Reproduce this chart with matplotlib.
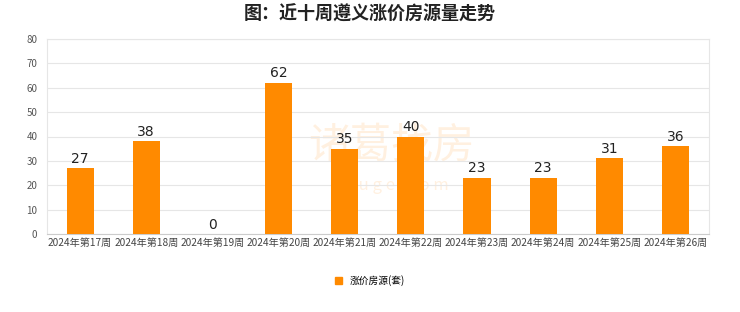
import numpy as np
import matplotlib.pyplot as plt
from matplotlib.patches import Patch

plt.rcParams['font.family'] = ['Noto Sans CJK SC', 'DejaVu Sans']

weeks = ['2024年第17周', '2024年第18周', '2024年第19周', '2024年第20周', '2024年第21周',
         '2024年第22周', '2024年第23周', '2024年第24周', '2024年第25周', '2024年第26周']
counts = [27, 38, 0, 62, 35, 40, 23, 23, 31, 36]
y_ticks = [0, 10, 20, 30, 40, 50, 60, 70, 80]

bar_color = '#FF8A00'

fig = plt.figure(figsize=(7.4, 3.12), dpi=100)
ax = fig.add_axes([0.0635, 0.25, 0.894, 0.625])

x = np.arange(len(weeks))
ax.bar(x, counts, width=0.41, color=bar_color, zorder=3)
for xi, v in zip(x, counts):
    ax.text(xi, v + 1, str(v), ha='center', va='bottom', fontsize=10, color='#222222',
            family='DejaVu Sans', zorder=4)

ax.set_xlim(-0.5, len(weeks) - 0.5)
ax.set_ylim(0, 80)
ax.set_yticks(y_ticks)
ax.set_xticks(x)
ax.set_xticklabels(weeks, fontsize=7.3, color='#444444')
ax.tick_params(axis='y', labelsize=7, labelcolor='#555555', length=0, pad=7)
ax.tick_params(axis='x', length=0, pad=3)
ax.grid(axis='y', color='#e6e6e6', linewidth=0.8, zorder=0)
for side in ['top', 'right', 'left']:
    ax.spines[side].set_color('#e6e6e6')
    ax.spines[side].set_linewidth(0.8)
ax.spines['bottom'].set_color('#cccccc')

# faint watermark behind the bars
ax.text(0.52, 0.45, '诸葛找房', transform=ax.transAxes, ha='center', va='center',
        fontsize=30, color=bar_color, alpha=0.12, zorder=1)
ax.text(0.52, 0.25, 'z h u g e . c o m', transform=ax.transAxes, ha='center', va='center',
        fontsize=12, color=bar_color, alpha=0.12, zorder=1)

fig.suptitle('图：近十周遵义涨价房源量走势', x=0.5, y=0.985, fontsize=13,
             fontweight='bold', color='#222222')

fig.legend(handles=[Patch(color=bar_color, label='涨价房源(套)')], loc='center',
           bbox_to_anchor=(0.5, 0.1), frameon=False, fontsize=7, handlelength=0.7,
           handleheight=0.7, handletextpad=0.8)

fig.savefig('out.png', dpi=100)
